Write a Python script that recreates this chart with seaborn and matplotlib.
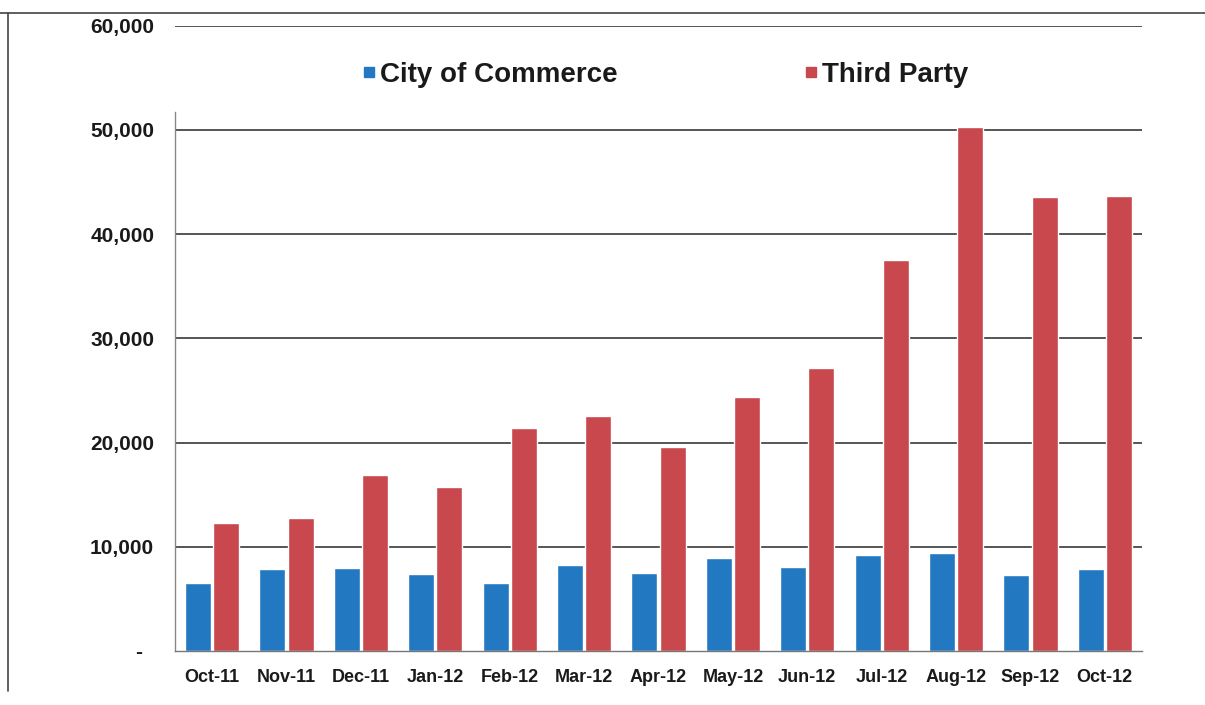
import matplotlib
matplotlib.use("Agg")
import matplotlib.pyplot as plt
import seaborn as sns
import pandas as pd
from matplotlib.ticker import FuncFormatter, FixedLocator
from matplotlib.lines import Line2D

months = ["Oct-11", "Nov-11", "Dec-11", "Jan-12", "Feb-12", "Mar-12", "Apr-12",
          "May-12", "Jun-12", "Jul-12", "Aug-12", "Sep-12", "Oct-12"]
city_of_commerce = [6500, 7870, 7970, 7390, 6500, 8250, 7510,
                    8960, 8030, 9180, 9400, 7320, 7840]
third_party = [12250, 12730, 16890, 15710, 21430, 22550, 19610,
               24350, 27130, 37520, 50260, 43540, 43640]
series_names = ["City of Commerce", "Third Party"]
colors = ["#2379C1", "#C8484D"]

df = pd.DataFrame({
    "Month": months * 2,
    "Series": [series_names[0]] * len(months) + [series_names[1]] * len(months),
    "Value": city_of_commerce + third_party,
})

sns.set_theme(style="white")
plt.rcParams["font.family"] = ["Liberation Sans", "DejaVu Sans"]

fig = plt.figure(figsize=(12.05, 7.05), dpi=100)
ax = fig.add_axes([175 / 1205, 1 - 651 / 705, (1142 - 175) / 1205, (651 - 25.8) / 705])

sns.barplot(data=df, x="Month", y="Value", hue="Series", order=months,
            hue_order=series_names, palette=colors, width=0.76, gap=0.08,
            saturation=1, ax=ax, legend=False)

ax.set_ylim(0, 60000)
ax.set_xlim(-0.5, len(months) - 0.5)
ax.yaxis.set_major_locator(FixedLocator([0, 10000, 20000, 30000, 40000, 50000, 60000]))
ax.yaxis.set_major_formatter(FuncFormatter(lambda v, p: "-  " if v == 0 else f"{int(v):,}"))
ax.set_xlabel("")
ax.set_ylabel("")

for v in range(10000, 60001, 10000):
    ax.axhline(v, color="#555555", lw=1.4, zorder=0)

for s in ["top", "right"]:
    ax.spines[s].set_visible(False)
ax.spines["left"].set_color("#888888")
ax.spines["left"].set_linewidth(1.0)
ax.spines["left"].set_bounds(0, 51700)
ax.spines["bottom"].set_color("#777777")
ax.spines["bottom"].set_linewidth(1.0)

ax.tick_params(axis="y", which="major", direction="inout", length=6, width=1,
               color="#666666", labelsize=15, pad=12)
ax.tick_params(axis="x", which="major", length=0, labelsize=13, pad=13)
ax.set_xticks(range(len(months)))
ax.set_xticks([i + 0.5 for i in range(len(months) - 1)], minor=True)
ax.tick_params(axis="x", which="minor", direction="out", length=5, width=1, color="#666666")
for lbl in ax.get_yticklabels() + ax.get_xticklabels():
    lbl.set_fontweight("bold")
    lbl.set_color("#1a1a1a")

handles = [Line2D([0], [0], marker="s", linestyle="none", markersize=7.5,
                  markerfacecolor=c, markeredgecolor=c) for c in colors]
leg = fig.legend(handles, series_names, loc="center", bbox_to_anchor=(664 / 1205, 1 - 75 / 705),
                 ncol=2, frameon=True, columnspacing=6.6, handletextpad=0.05,
                 handlelength=0.7, prop={"weight": "bold", "size": 20})
leg.get_frame().set_facecolor("white")
leg.get_frame().set_edgecolor("white")
for t in leg.get_texts():
    t.set_color("#1a1a1a")

# scan frame lines
fig.add_artist(Line2D([0, 1], [1 - 13 / 705, 1 - 13 / 705], transform=fig.transFigure,
                      color="#444444", lw=1.2))
fig.add_artist(Line2D([8 / 1205, 8 / 1205], [0.02, 1 - 13 / 705], transform=fig.transFigure,
                      color="#444444", lw=1.2))

fig.savefig("out.png", dpi=100)
